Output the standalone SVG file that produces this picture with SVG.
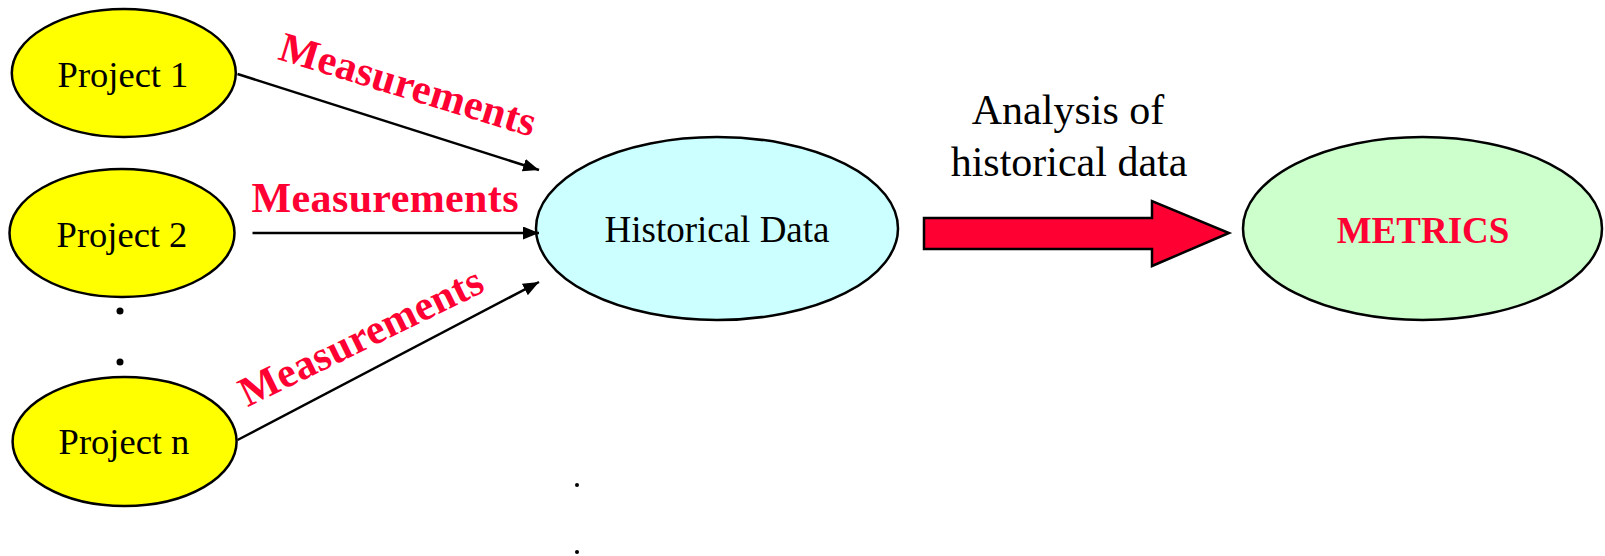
<svg xmlns="http://www.w3.org/2000/svg" width="1605" height="556" viewBox="0 0 1605 556">
<defs>
<marker id="ah" viewBox="0 0 16 13" refX="16" refY="6.5" markerWidth="16" markerHeight="13" markerUnits="userSpaceOnUse" orient="auto">
<path d="M0,0 L16,6.5 L0,13 z" fill="#000"/>
</marker>
</defs>
<style>
.node{stroke:#000;stroke-width:2.5}
.lbl{font-family:"Liberation Serif","Times New Roman",serif;font-size:36.5px;fill:#000;text-anchor:middle}
.meas{font-family:"Liberation Serif","Times New Roman",serif;font-size:42px;font-weight:bold;fill:#FF0033;text-anchor:middle}
.conn{stroke:#000;stroke-width:2.5;fill:none;marker-end:url(#ah)}
</style>
<rect width="1605" height="556" fill="#fff"/>
<g id="project1">
<ellipse class="node" cx="123.8" cy="73" rx="112" ry="64" fill="#FFFF00"/>
<text class="lbl" x="123" y="87">Project 1</text>
</g>
<g id="project2">
<ellipse class="node" cx="122" cy="233" rx="112.5" ry="64" fill="#FFFF00"/>
<text class="lbl" x="122" y="247">Project 2</text>
</g>
<g id="projectn">
<ellipse class="node" cx="124.6" cy="441.5" rx="112" ry="64.5" fill="#FFFF00"/>
<text class="lbl" x="124" y="454">Project n</text>
</g>
<g id="dots">
<circle cx="120" cy="311" r="3.5" fill="#000"/>
<circle cx="120" cy="362" r="3.5" fill="#000"/>
<circle cx="577" cy="485" r="2" fill="#000"/>
<circle cx="577" cy="552" r="2" fill="#000"/>
</g>
<g id="historical">
<ellipse class="node" cx="717" cy="228.5" rx="181" ry="91.5" fill="#CCFFFF"/>
<text x="717" y="242" style="font-family:'Liberation Serif','Times New Roman',serif;font-size:37px;fill:#000;text-anchor:middle">Historical Data</text>
</g>
<g id="metrics">
<ellipse class="node" cx="1422.5" cy="228.5" rx="179.5" ry="91.5" fill="#CCFFCC"/>
<text x="1423" y="243" style="font-family:'Liberation Serif','Times New Roman',serif;font-size:37px;font-weight:bold;fill:#FF0033;text-anchor:middle">METRICS</text>
</g>
<g id="connectors">
<line class="conn" x1="237.5" y1="74" x2="539" y2="170"/>
<line class="conn" x1="252.5" y1="233" x2="539" y2="233"/>
<line class="conn" x1="237.5" y1="440" x2="539" y2="282"/>
<polygon points="924,218 1152,218 1152,201 1229,233 1152,266 1152,249 924,249" fill="#FF0033" stroke="#000" stroke-width="2.5"/>
</g>
<g id="labels">
<text class="meas" transform="translate(404,98) rotate(17)" textLength="266">Measurements</text>
<text class="meas" x="385" y="212" textLength="267">Measurements</text>
<text class="meas" transform="translate(367,349) rotate(-26)" textLength="266">Measurements</text>
<text x="1068" y="124" style="font-family:'Liberation Serif','Times New Roman',serif;font-size:42px;fill:#000;text-anchor:middle">Analysis of</text>
<text x="1069" y="176" style="font-family:'Liberation Serif','Times New Roman',serif;font-size:42px;fill:#000;text-anchor:middle">historical data</text>
</g>
</svg>
